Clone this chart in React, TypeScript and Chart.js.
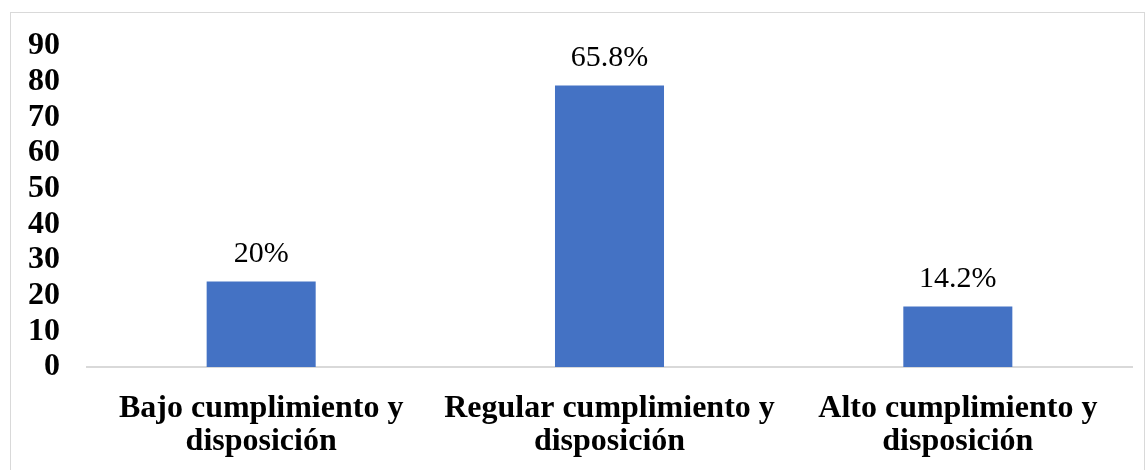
import React, { useEffect, useRef } from "react";
import { Chart, registerables } from "chart.js";

Chart.register(...registerables);

const categories: string[][] = [
  ["Bajo cumplimiento y", "disposición"],
  ["Regular cumplimiento y", "disposición"],
  ["Alto cumplimiento y", "disposición"],
];
const counts: number[] = [24, 79, 17];
const percentLabels: string[] = ["20%", "65.8%", "14.2%"];
const yMax = 90;
const yStep = 10;

const FONT = "'Liberation Serif', 'Times New Roman', serif";

const barLabelPlugin = {
  id: "barLabels",
  afterDatasetsDraw(chart: any) {
    const ctx = chart.ctx;
    const meta = chart.getDatasetMeta(0);
    ctx.save();
    ctx.font = `30px ${FONT}`;
    ctx.fillStyle = "#000000";
    ctx.textAlign = "center";
    ctx.textBaseline = "alphabetic";
    meta.data.forEach((bar: any, i: number) => {
      ctx.fillText(percentLabels[i], bar.x, bar.y - 19);
    });
    ctx.restore();
  },
};

export default function App() {
  const ref = useRef<HTMLCanvasElement | null>(null);
  useEffect(() => {
    if (!ref.current) return;
    const chart = new Chart(ref.current, {
      type: "bar",
      data: {
        labels: categories,
        datasets: [
          {
            data: counts,
            backgroundColor: "#4472C4",
            borderWidth: 0,
            categoryPercentage: 1,
            barPercentage: 0.313,
          },
        ],
      },
      options: {
        animation: false,
        responsive: false,
        maintainAspectRatio: false,
        layout: { padding: { left: 0, right: 15, top: 42, bottom: 0 } },
        plugins: {
          legend: { display: false },
          tooltip: { enabled: false },
        },
        scales: {
          x: {
            grid: { display: false, drawTicks: false },
            border: { display: true, color: "#d9d9d9", width: 2 },
            ticks: {
              color: "#000000",
              font: { family: FONT, size: 32, weight: "bold", lineHeight: 1.04 },
              padding: 25,
              maxRotation: 0,
              autoSkip: false,
            },
            afterFit(scale: any) {
              scale.height = 103;
            },
          },
          y: {
            min: 0,
            max: yMax,
            grid: { display: false, drawTicks: false },
            border: { display: false },
            ticks: {
              stepSize: yStep,
              autoSkip: false,
              color: "#000000",
              font: { family: FONT, size: 32, weight: "bold" },
              padding: 27,
            },
            afterFit(scale: any) {
              scale.width = 87;
            },
          },
        },
      },
      plugins: [barLabelPlugin],
    });
    return () => chart.destroy();
  }, []);

  return (
    <div style={{ position: "fixed", left: 0, top: 0, width: 1147, height: 470, background: "#ffffff", overflow: "hidden" }}>
      <div
        style={{
          position: "absolute",
          left: 10,
          top: 12,
          width: 1135,
          height: 470,
          border: "1px solid #d9d9d9",
          boxSizing: "border-box",
        }}
      />
      <canvas ref={ref} width={1147} height={470} style={{ position: "absolute", left: 0, top: 0, width: 1147, height: 470 }} />
    </div>
  );
}
